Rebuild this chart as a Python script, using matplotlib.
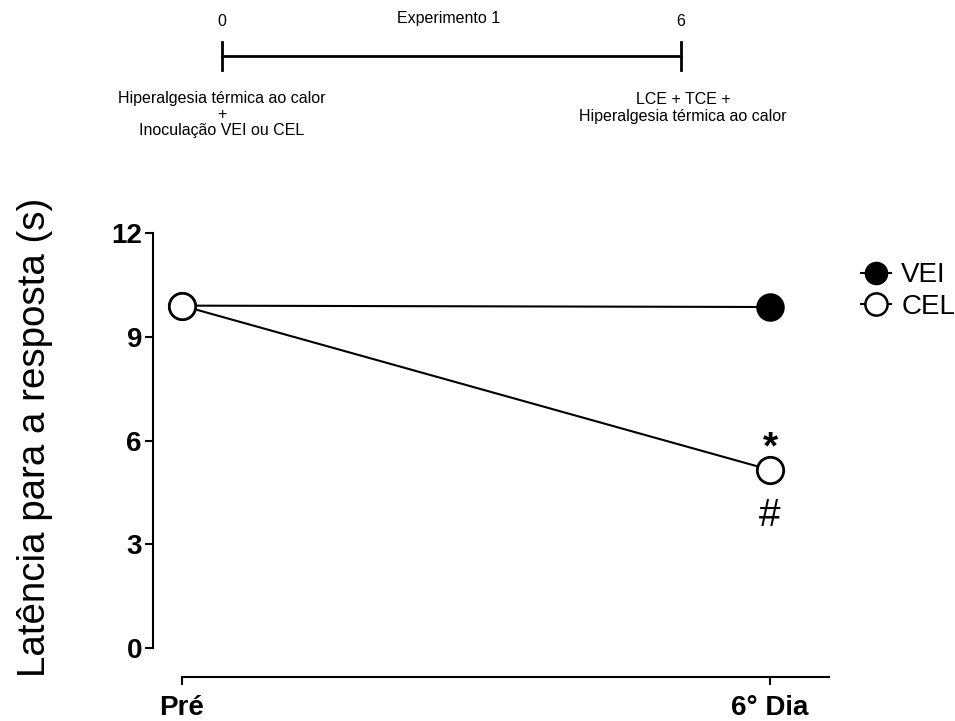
import matplotlib
matplotlib.use("Agg")
import matplotlib.pyplot as plt
from matplotlib.lines import Line2D

plt.rcParams['font.family'] = ['Liberation Sans', 'DejaVu Sans']

categories = ["Pré", "6° Dia"]
vei = [9.9, 9.86]
cel = [9.9, 5.15]
yticks = [0, 3, 6, 9, 12]

W, H = 955, 721
fig = plt.figure(figsize=(W/100, H/100), dpi=100)

def fx(px): return px / W
def fy(py): return 1 - py / H

# main axes
ax = fig.add_axes([fx(153), fy(648), (829-153)/W, (648-233)/H])
xpos = [0, 1]
ax.set_xlim(-0.049, 1.1)
ax.set_ylim(0, 12)
ax.plot(xpos, vei, color='black', lw=1.5, marker='o', ms=19, mfc='black', mec='black', mew=1.5, zorder=3, clip_on=False)
ax.plot(xpos, cel, color='black', lw=1.5, marker='o', ms=19, mfc='white', mec='black', mew=2, zorder=4, clip_on=False)

for s in ['top', 'right']:
    ax.spines[s].set_visible(False)
ax.spines['left'].set_bounds(0, 12)
ax.spines['left'].set_linewidth(1.5)
ax.spines['bottom'].set_linewidth(1.5)
ax.spines['bottom'].set_position(('outward', 21))
ax.spines['bottom'].set_bounds(0, 1.1)
ax.set_yticks(yticks)
ax.set_yticklabels([str(v) for v in yticks], fontweight='bold', fontsize=20)
ax.set_xticks(xpos)
ax.set_xticklabels(categories, fontweight='bold', fontsize=20)
ax.tick_params(axis='y', direction='out', length=6, width=1.5, pad=2)
ax.tick_params(axis='x', direction='out', length=6, width=1.5, pad=7)
fig.text(fx(35), fy(437), "Latência para a resposta (s)", rotation=90,
         ha='center', va='center', fontsize=27.7)

ax.text(1, cel[1] + 0.62, "*", ha='center', va='center', fontsize=28, fontweight='bold')
ax.text(1, cel[1] - 1.33, "#", ha='center', va='center', fontsize=28)

handles = [Line2D([], [], color='black', lw=1.5, marker='o', ms=16, mfc='black'),
           Line2D([], [], color='black', lw=1.5, marker='o', ms=16, mfc='white', mew=1.8)]
fig.legend(handles, ["VEI", "CEL"], loc='center left', bbox_to_anchor=(fx(847), fy(291)),
           frameon=False, fontsize=20, handlelength=1.1, handletextpad=0.35,
           labelspacing=0.2, borderpad=0)

# timeline
tax = fig.add_axes([fx(222), fy(70), (681-222)/W, 28/H])
tax.set_xlim(0, 6)
tax.set_ylim(-1, 1)
tax.axis('off')
tax.plot([0, 6], [0, 0], color='black', lw=2, clip_on=False)
tax.plot([0, 0], [-1, 1], color='black', lw=2, clip_on=False)
tax.plot([6, 6], [-1, 1], color='black', lw=2, clip_on=False)

fs = 11.5
fig.text(fx(222), fy(21), "0", ha='center', va='center', fontsize=fs)
fig.text(fx(681), fy(21), "6", ha='center', va='center', fontsize=fs)
fig.text(fx(449), fy(19), "Experimento 1", ha='center', va='center', fontsize=fs)
fig.text(fx(222), fy(98), "Hiperalgesia térmica ao calor", ha='center', va='center', fontsize=fs)
fig.text(fx(222), fy(114), "+", ha='center', va='center', fontsize=fs)
fig.text(fx(222), fy(131), "Inoculação VEI ou CEL", ha='center', va='center', fontsize=fs)
fig.text(fx(683), fy(99), "LCE + TCE +", ha='center', va='center', fontsize=fs)
fig.text(fx(683), fy(116), "Hiperalgesia térmica ao calor", ha='center', va='center', fontsize=fs)

fig.savefig("out.png", dpi=100)
